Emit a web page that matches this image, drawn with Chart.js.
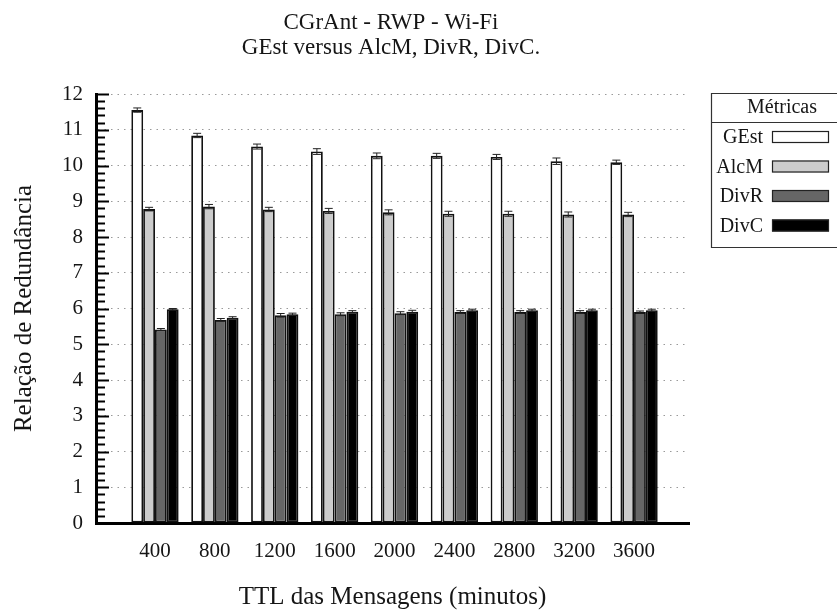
<!DOCTYPE html>
<html>
<head>
<meta charset="utf-8">
<script src="https://cdn.jsdelivr.net/npm/chart.js@4.4.1/dist/chart.umd.min.js"></script>
<style>
  body { margin: 0; background: #fff; }
  #wrap { width: 837px; height: 612px; }
</style>
</head>
<body>
<div id="wrap"><canvas id="grafico"></canvas></div>
<script>
// TTL (minutos) e médias da relação de redundância por métrica
const ttl = [400, 800, 1200, 1600, 2000, 2400, 2800, 3200, 3600]
const gEst = [11.55, 10.84, 10.53, 10.39, 10.27, 10.27, 10.24, 10.12, 10.09]
const alcM = [8.78, 8.85, 8.77, 8.73, 8.69, 8.65, 8.65, 8.63, 8.63]
const divR = [5.41, 5.68, 5.81, 5.84, 5.87, 5.90, 5.90, 5.90, 5.90]
const divC = [5.98, 5.74, 5.84, 5.91, 5.91, 5.95, 5.95, 5.95, 5.95]

// intervalos de confiança (±)
const errGEst = [0.06, 0.06, 0.07, 0.08, 0.08, 0.07, 0.07, 0.09, 0.06]
const errAlcM = [0.05, 0.06, 0.06, 0.07, 0.07, 0.07, 0.07, 0.07, 0.06]
const errDivR = [0.03, 0.04, 0.05, 0.04, 0.04, 0.04, 0.04, 0.04, 0.03]
const errDivC = [0.02, 0.03, 0.03, 0.03, 0.04, 0.03, 0.03, 0.03, 0.03]

const metricas = ['GEst', 'AlcM', 'DivR', 'DivC']
const cores = ['#ffffff', '#cccccc', '#666666', '#000000']
const series = [gEst, alcM, divR, divC]
const erros = [errGEst, errAlcM, errDivR, errDivC]

const titulo = ['CGrAnt - RWP - Wi-Fi', 'GEst versus AlcM, DivR, DivC.']
const tituloLegenda = 'Métricas'

const serif = "'Liberation Serif', 'Times New Roman', serif"
const corTexto = '#151515'

// barras de erro com traço horizontal nas pontas
const barrasErro = {
    id: 'barrasErro',
    afterDatasetsDraw(chart) {
        const { ctx, scales: { y } } = chart
        ctx.save()
        ctx.strokeStyle = '#222'
        ctx.lineWidth = 1
        chart.data.datasets.forEach((ds, i) => {
            const meta = chart.getDatasetMeta(i)
            meta.data.forEach((bar, j) => {
                const v = ds.data[j].y
                const e = ds.erro[j]
                const yTop = y.getPixelForValue(v + e)
                const yBot = y.getPixelForValue(v - e)
                const x = bar.x
                ctx.beginPath()
                ctx.moveTo(x, yTop); ctx.lineTo(x, yBot)
                ctx.moveTo(x - 4, yTop); ctx.lineTo(x + 4, yTop)
                ctx.moveTo(x - 4, yBot); ctx.lineTo(x + 4, yBot)
                ctx.stroke()
            })
        })
        ctx.restore()
    }
}

// marcas do eixo y voltadas para dentro (principais e secundárias)
const marcasEixo = {
    id: 'marcasEixo',
    afterDatasetsDraw(chart) {
        const { ctx, scales: { y }, chartArea } = chart
        ctx.save()
        ctx.strokeStyle = '#000'
        ctx.lineWidth = 2
        for (let k = 0; k <= 60; k++) {
            const py = Math.round(y.getPixelForValue(k / 5)) + 0.5
            const len = k % 5 === 0 ? 13 : 9
            ctx.beginPath()
            ctx.moveTo(chartArea.left, py)
            ctx.lineTo(chartArea.left + len, py)
            ctx.stroke()
        }
        ctx.restore()
    }
}

// título em duas linhas e legenda em forma de tabela
const tituloLegendaPlugin = {
    id: 'tituloLegendaPlugin',
    afterDraw(chart) {
        const { ctx } = chart
        ctx.save()
        ctx.fillStyle = corTexto
        ctx.textAlign = 'center'
        ctx.textBaseline = 'middle'
        ctx.font = `23px ${serif}`
        ctx.fillText(titulo[0], 391, 23)
        ctx.fillText(titulo[1], 391, 48)

        // caixa da legenda
        const bx = 711.5, by = 93.5, bb = 247.5
        ctx.strokeStyle = '#333'
        ctx.lineWidth = 1.2
        ctx.beginPath()
        ctx.moveTo(837, by); ctx.lineTo(bx, by); ctx.lineTo(bx, bb); ctx.lineTo(837, bb)
        ctx.moveTo(bx, 122.5); ctx.lineTo(837, 122.5)
        ctx.stroke()

        ctx.font = `20px ${serif}`
        ctx.fillText(tituloLegenda, 782, 108)

        ctx.textAlign = 'right'
        ctx.font = `20px ${serif}`
        chart.data.datasets.forEach((ds, i) => {
            const cy = 137 + i * 29.5
            ctx.fillStyle = corTexto
            ctx.fillText(ds.label, 763, cy + 1)
            ctx.fillStyle = ds.backgroundColor
            ctx.fillRect(772, cy - 6, 57, 12)
            ctx.strokeStyle = '#222'
            ctx.lineWidth = 1.2
            ctx.strokeRect(772.5, cy - 5.5, 56, 11)
        })
        ctx.restore()
    }
}

const ctx = document.getElementById('grafico').getContext('2d')
new Chart(ctx, {
    type: 'bar',
    data: {
        datasets: metricas.map((nome, i) => ({
            label: nome,
            data: ttl.map((t, j) => ({ x: t, y: series[i][j] })),
            erro: erros[i],
            backgroundColor: cores[i],
            borderColor: '#111',
            borderWidth: 1.8,
            borderSkipped: false,
            categoryPercentage: 0.79,
            barPercentage: 1
        }))
    },
    options: {
        responsive: true,
        maintainAspectRatio: false,
        animation: false,
        layout: { padding: { top: 94, right: 148, left: 0, bottom: 0 } },
        plugins: {
            legend: { display: false },
            title: { display: false },
            tooltip: { enabled: false }
        },
        scales: {
            x: {
                type: 'linear',
                offset: false,
                min: 6,
                max: 3967,
                afterBuildTicks: (scale) => {
                    scale.ticks = ttl.map(v => ({ value: v }))
                },
                afterFit: (scale) => { scale.height = 89 },
                grid: { display: false, drawTicks: false, offset: false },
                border: { display: true, width: 3, color: '#000' },
                ticks: {
                    padding: 16,
                    color: corTexto,
                    font: { family: serif, size: 21 },
                    maxRotation: 0,
                    autoSkip: false,
                    callback: (v) => String(v)
                },
                title: {
                    display: true,
                    text: 'TTL das Mensagens (minutos)',
                    color: corTexto,
                    font: { family: serif, size: 25 },
                    padding: { top: 0, bottom: 0 }
                }
            },
            y: {
                min: 0,
                max: 12,
                afterFit: (scale) => { scale.width = 96 },
                ticks: {
                    stepSize: 1,
                    padding: 13,
                    color: corTexto,
                    font: { family: serif, size: 21 }
                },
                grid: { color: '#9a9a9a', lineWidth: 1, drawTicks: false },
                border: { display: true, width: 3, color: '#000', dash: [1.5, 5] },
                title: {
                    display: true,
                    text: 'Relação de Redundância',
                    color: corTexto,
                    font: { family: serif, size: 25 },
                    padding: { top: 9, bottom: 0 }
                }
            }
        }
    },
    plugins: [barrasErro, marcasEixo, tituloLegendaPlugin]
})
</script>
</body>
</html>
